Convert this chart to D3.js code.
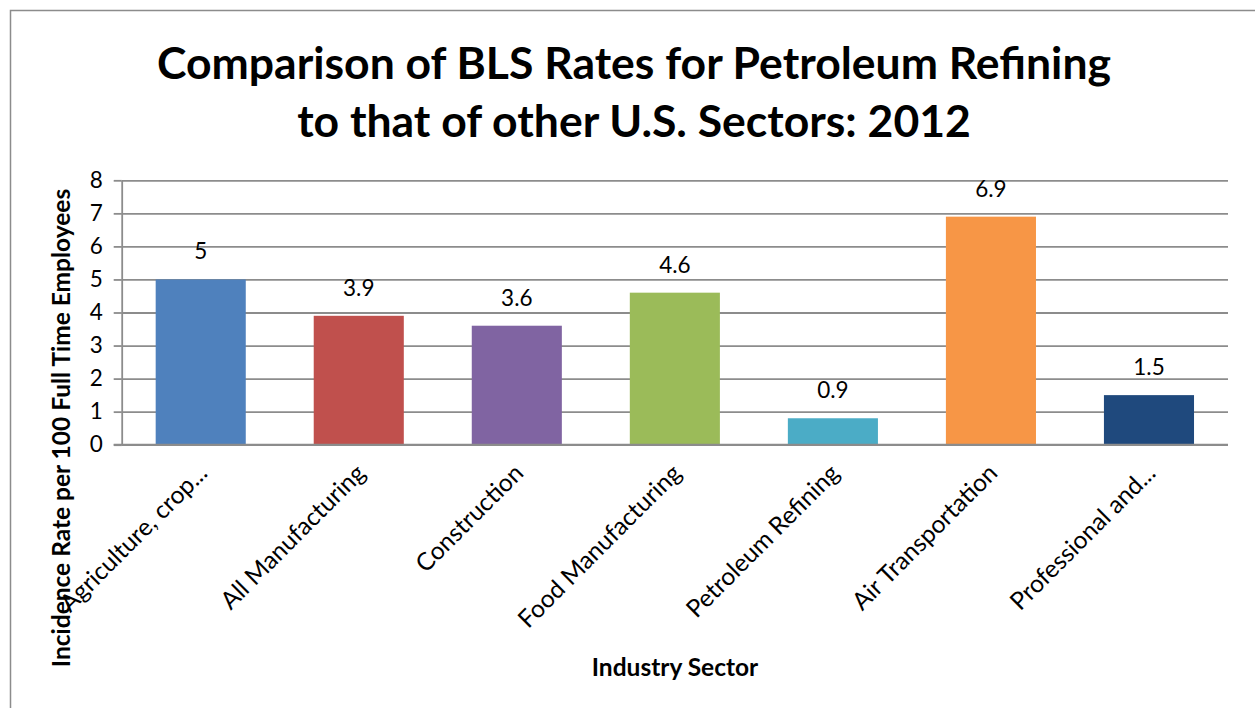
<!DOCTYPE html>
<html>
<head>
<meta charset="utf-8">
<script src="https://cdn.jsdelivr.net/npm/d3@7"></script>
<style>
  body { margin: 0; background: #fff; }
  text { font-family: Lato, "Open Sans", sans-serif; fill: #000; }
</style>
</head>
<body>
<div id="chart"></div>
<script>
var sectors = ["Agriculture, crop...", "All Manufacturing", "Construction", "Food Manufacturing",
               "Petroleum Refining", "Air Transportation", "Professional and..."];
var rates = [5, 3.9, 3.6, 4.6, 0.8, 6.9, 1.5];
var rateLabels = ["5", "3.9", "3.6", "4.6", "0.9", "6.9", "1.5"];
var barColors = ["#4f81bd", "#c0504d", "#8064a2", "#9bbb59", "#4bacc6", "#f79646", "#1f497d"];
var yTicks = [0, 1, 2, 3, 4, 5, 6, 7, 8];
var titleLines = ["Comparison of BLS Rates for Petroleum Refining", "to that of other U.S. Sectors: 2012"];

var W = 1255, H = 708;
var plot = {left: 121.7, right: 1228, top: 180.3, bottom: 444.7};

var svg = d3.select("#chart").append("svg")
    .attr("width", W).attr("height", H);

/*chart area border*/
svg.append("rect")
    .attr("x", 10.5).attr("y", 10.5)
    .attr("width", 1300).attr("height", 800)
    .attr("fill", "#fff")
    .attr("stroke", "#8c8c8c")
    .attr("stroke-width", 1.5);

var x = d3.scaleBand().domain(sectors)
    .range([plot.left, plot.right])
    .paddingInner(0.43).paddingOuter(0.215);
var y = d3.scaleLinear().domain([0, 8]).range([plot.bottom, plot.top]);

/*gridlines*/
svg.append("g")
    .attr("transform", "translate(" + plot.left + ",0)")
    .call(d3.axisLeft(y).tickValues(yTicks).tickSize(-(plot.right - plot.left)).tickFormat(""))
    .call(function(g) {
        g.select(".domain").remove();
        g.selectAll("line").attr("stroke", "#8c8c8c").attr("stroke-width", 1.8);
    });

/*y axis with ticks*/
svg.append("g")
    .attr("transform", "translate(" + plot.left + ",0)")
    .call(d3.axisLeft(y).tickValues(yTicks).tickSize(8).tickSizeOuter(0).tickPadding(11))
    .call(function(g) {
        g.select(".domain").attr("stroke", "#8c8c8c").attr("stroke-width", 1.8);
        g.selectAll("line").attr("stroke", "#8c8c8c").attr("stroke-width", 1.8);
        g.selectAll("text").attr("font-size", 22.5).attr("font-family", "Lato");
    });

/*bars*/
svg.append("g").selectAll("rect")
    .data(rates)
    .join("rect")
    .attr("x", function(d, i) { return x(sectors[i]); })
    .attr("y", function(d) { return y(d); })
    .attr("width", x.bandwidth())
    .attr("height", function(d) { return y(0) - y(d); })
    .attr("fill", function(d, i) { return barColors[i]; });

/*x axis line drawn over bars*/
svg.append("line")
    .attr("x1", plot.left - 8).attr("x2", plot.right)
    .attr("y1", y(0)).attr("y2", y(0))
    .attr("stroke", "#8c8c8c").attr("stroke-width", 1.8);

/*value labels*/
svg.append("g").selectAll("text")
    .data(rates)
    .join("text")
    .attr("x", function(d, i) { return x(sectors[i]) + x.bandwidth() / 2; })
    .attr("y", function(d) { return y(d) - 20; })
    .attr("text-anchor", "middle")
    .attr("font-size", 22.5)
    .text(function(d, i) { return rateLabels[i]; });

/*category labels*/
svg.append("g").selectAll("text")
    .data(sectors)
    .join("text")
    .attr("transform", function(d) {
        return "translate(" + (x(d) + x.bandwidth() / 2 + 8) + "," + (plot.bottom + 30) + ") rotate(-45)";
    })
    .attr("text-anchor", "end")
    .attr("font-size", 24.5)
    .text(function(d) { return d; });

/*title*/
svg.append("text")
    .attr("x", 634).attr("y", 79)
    .attr("text-anchor", "middle")
    .attr("font-size", 44.5)
    .attr("font-weight", "bold")
    .selectAll("tspan")
    .data(titleLines)
    .join("tspan")
    .attr("x", 634)
    .attr("dy", function(d, i) { return i == 0 ? 0 : 58; })
    .text(function(d) { return d; });

/*axis titles*/
svg.append("text")
    .attr("x", 675).attr("y", 676)
    .attr("text-anchor", "middle")
    .attr("font-size", 24.5)
    .attr("font-weight", "bold")
    .text("Industry Sector");

svg.append("text")
    .attr("transform", "translate(70,428) rotate(-90)")
    .attr("text-anchor", "middle")
    .attr("font-size", 24.5)
    .attr("font-weight", "bold")
    .text("Incidence Rate per 100 Full Time Employees");
</script>
</body>
</html>
